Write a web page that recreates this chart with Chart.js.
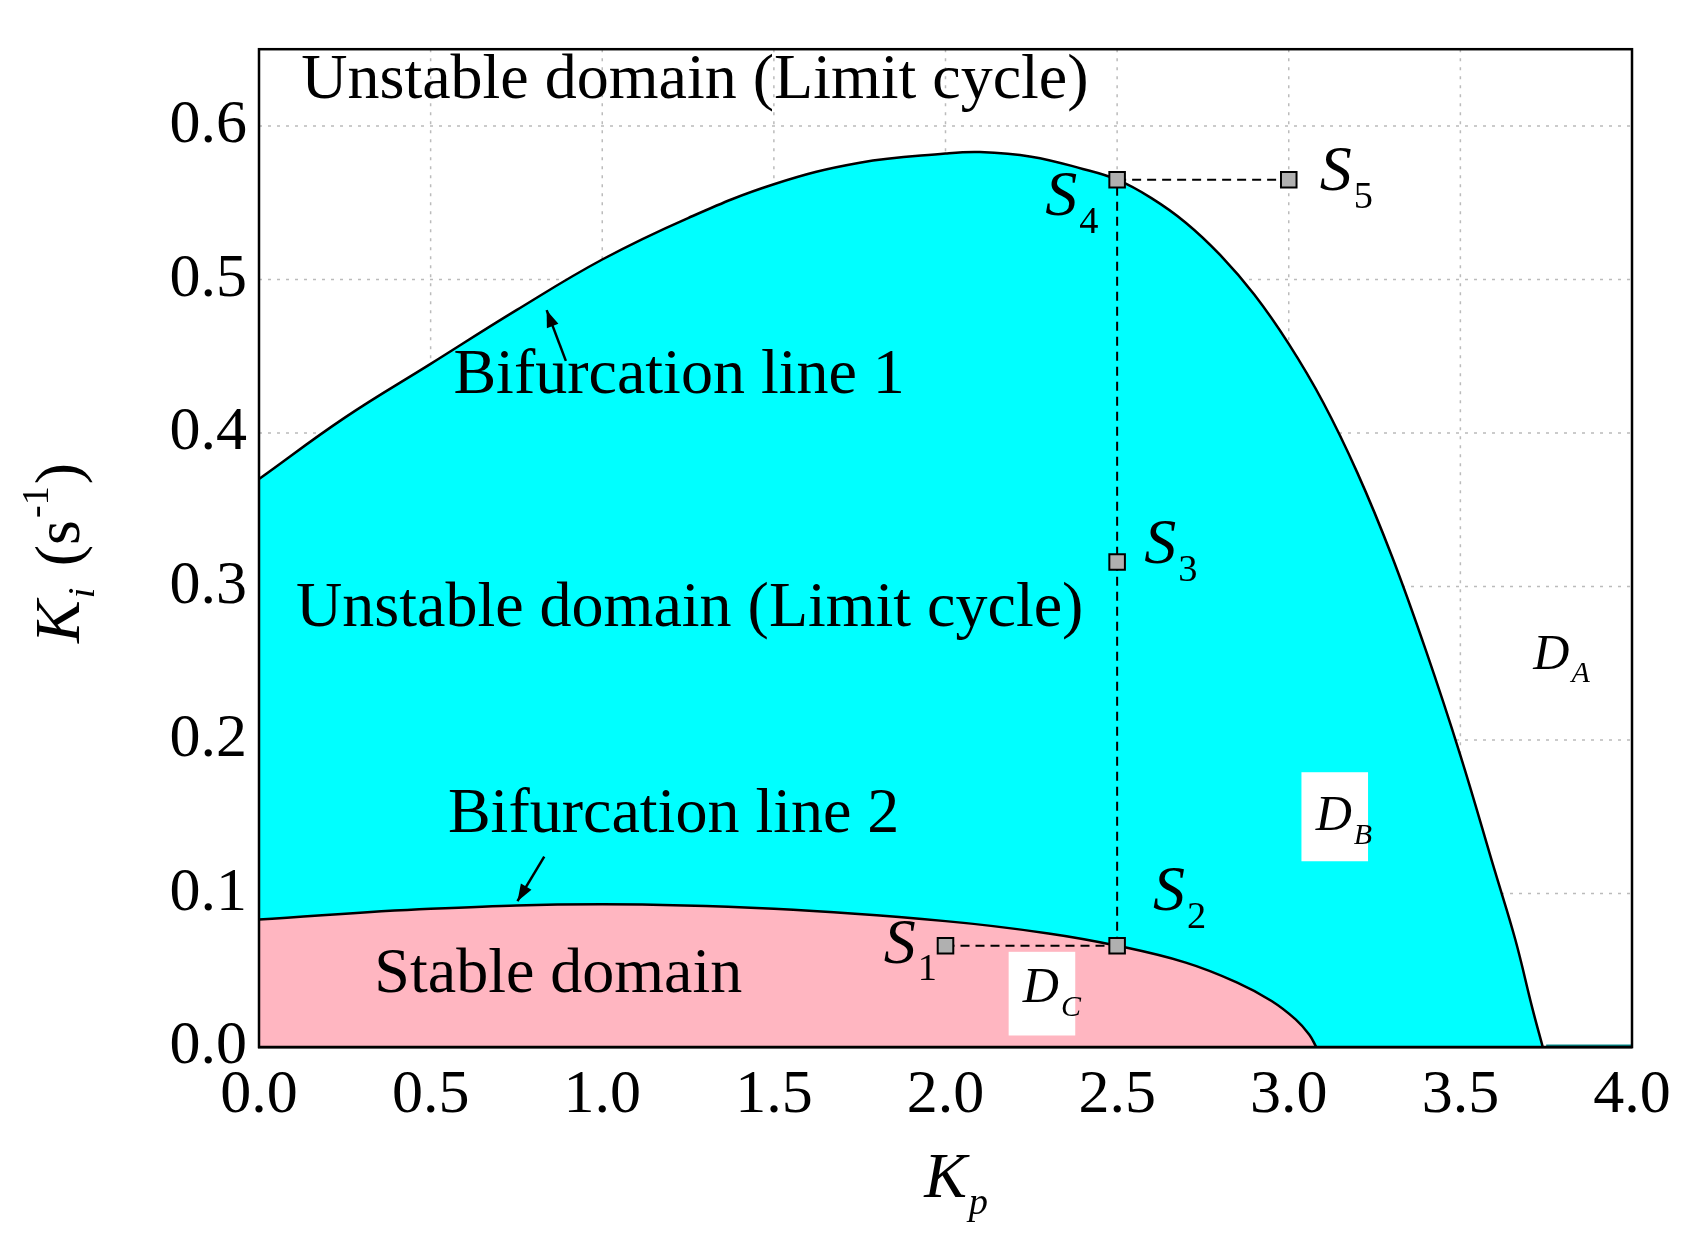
<!DOCTYPE html>
<html><head><meta charset="utf-8">
<script src="https://cdn.jsdelivr.net/npm/chart.js@4"></script>
<style>html,body{margin:0;background:#fff}</style>
</head><body>
<canvas id="c" width="1689" height="1254"></canvas>
<script>
// bifurcation line 1 (Kp, Ki)
const line1Kp = [0, 0.25, 0.5, 0.75, 1.0, 1.25, 1.5, 1.75, 2.0, 2.1, 2.25, 2.4, 2.5, 2.6, 2.7, 2.8, 2.9, 3.0, 3.1, 3.2, 3.3, 3.4, 3.5, 3.6, 3.66, 3.71, 3.74];
const line1Ki = [0.37, 0.41, 0.445, 0.48, 0.513, 0.54, 0.562, 0.576, 0.582, 0.583, 0.58, 0.572, 0.565, 0.553, 0.537, 0.516, 0.49, 0.458, 0.42, 0.374, 0.32, 0.258, 0.19, 0.115, 0.07, 0.025, 0];
// bifurcation line 2
const line2Kp = [0, 0.5, 1.0, 1.5, 2.0, 2.3, 2.5, 2.7, 2.85, 2.95, 3.02, 3.06, 3.08];
const line2Ki = [0.083, 0.09, 0.093, 0.09, 0.082, 0.074, 0.066, 0.055, 0.042, 0.03, 0.018, 0.008, 0];
// operating points S1..S5
const ptKp = [2.0, 2.5, 2.5, 2.5, 3.0];
const ptKi = [0.066, 0.066, 0.316, 0.565, 0.565];
const xTicks = [0, 0.5, 1.0, 1.5, 2.0, 2.5, 3.0, 3.5, 4.0];
const yTicks = [0, 0.1, 0.2, 0.3, 0.4, 0.5, 0.6];

const pts = (xs, ys) => xs.map((x, i) => ({x, y: ys[i]}));
const serif = '"Liberation Serif", "DejaVu Serif", serif';

function sub(ctx, x, y, main, s, size, italicSub) {
  ctx.font = `italic ${size}px ${serif}`;
  ctx.textAlign = 'left'; ctx.textBaseline = 'middle';
  const w = ctx.measureText(main).width;
  const x0 = x - w / 2;
  ctx.fillText(main, x0, y);
  ctx.font = `${italicSub ? 'italic ' : ''}${size * 0.6}px ${serif}`;
  ctx.fillText(s, x0 + w + 2, y + size * 0.38);
}

const annot = {
  id: 'annot',
  afterDraw(chart) {
    const {ctx, scales: {x, y}} = chart;
    const px = v => x.getPixelForValue(v), py = v => y.getPixelForValue(v);
    ctx.save();
    ctx.fillStyle = '#fff';
    [[3.037, 3.231, 0.179, 0.121], [2.184, 2.378, 0.062, 0.0075]].forEach(b => {
      ctx.fillRect(px(b[0]), py(b[2]), px(b[1]) - px(b[0]), py(b[3]) - py(b[2]));
    });
    ctx.fillStyle = '#000';
    ctx.textAlign = 'center'; ctx.textBaseline = 'middle';
    ctx.font = `64px ${serif}`;
    ctx.fillText('Unstable domain (Limit cycle)', px(1.27), py(0.629));
    ctx.fillText('Unstable domain (Limit cycle)', px(1.255), py(0.285));
    ctx.fillText('Bifurcation line 1', px(1.224), py(0.437));
    ctx.fillText('Bifurcation line 2', px(1.208), py(0.151));
    ctx.fillText('Stable domain', px(0.872), py(0.047));
    // arrows
    [[0.894, 0.447, 0.838, 0.480], [0.831, 0.124, 0.753, 0.095]].forEach(a => {
      const x1 = px(a[0]), y1 = py(a[1]), x2 = px(a[2]), y2 = py(a[3]);
      ctx.strokeStyle = '#000'; ctx.lineWidth = 2.5;
      ctx.beginPath(); ctx.moveTo(x1, y1); ctx.lineTo(x2, y2); ctx.stroke();
      const ang = Math.atan2(y2 - y1, x2 - x1);
      ctx.beginPath(); ctx.moveTo(x2, y2);
      ctx.lineTo(x2 - 18 * Math.cos(ang - 0.35), y2 - 18 * Math.sin(ang - 0.35));
      ctx.lineTo(x2 - 18 * Math.cos(ang + 0.35), y2 - 18 * Math.sin(ang + 0.35));
      ctx.closePath(); ctx.fill();
    });
    sub(ctx, px(2.337), py(0.553), 'S', '4', 64);
    sub(ctx, px(3.137), py(0.569), 'S', '5', 64);
    sub(ctx, px(2.626), py(0.326), 'S', '3', 64);
    sub(ctx, px(2.651), py(0.1), 'S', '2', 64);
    sub(ctx, px(1.867), py(0.066), 'S', '1', 64);
    sub(ctx, px(3.765), py(0.255), 'D', 'A', 50, true);
    sub(ctx, px(3.131), py(0.15), 'D', 'B', 50, true);
    sub(ctx, px(2.278), py(0.038), 'D', 'C', 50, true);
    // axis titles
    sub(ctx, px(2.0), 1180, 'K', 'p', 64, true);
    ctx.translate(62, py(0.32));
    ctx.rotate(-Math.PI / 2);
    ctx.textAlign = 'left';
    ctx.font = `italic 64px ${serif}`;
    const t = ctx.measureText('K').width;
    ctx.font = `64px ${serif}`;
    const rest = ' (s';
    const total = t + 18 + ctx.measureText(rest + ')').width + 30;
    let cx = -total / 2;
    ctx.font = `italic 64px ${serif}`; ctx.fillText('K', cx, 0); cx += t;
    ctx.font = `italic 38px ${serif}`; ctx.fillText('i', cx + 2, 22); cx += 18;
    ctx.font = `64px ${serif}`; ctx.fillText(rest, cx, 0); cx += ctx.measureText(rest).width;
    ctx.font = `38px ${serif}`; ctx.fillText('-1', cx + 2, -24); cx += ctx.measureText('-1').width + 4;
    ctx.font = `64px ${serif}`; ctx.fillText(')', cx, 0);
    ctx.restore();
  }
};

new Chart(document.getElementById('c'), {
  type: 'scatter',
  data: {
    datasets: [
      {data: pts(line1Kp, line1Ki), showLine: true, fill: 'origin', backgroundColor: '#00ffff', borderColor: '#000', borderWidth: 2.5, pointRadius: 0, tension: 0.4, order: 5},
      {data: pts(line2Kp, line2Ki), showLine: true, fill: 'origin', backgroundColor: '#ffb6c1', borderColor: '#000', borderWidth: 2.5, pointRadius: 0, tension: 0.4, order: 4},
      {data: [{x: 3.75, y: 0.001}, {x: 4.0, y: 0.001}], showLine: true, borderColor: '#008b8b', borderWidth: 2, pointRadius: 0, order: 3},
      {data: pts([ptKp[0], ptKp[1]], [ptKi[0], ptKi[1]]), showLine: true, borderColor: '#000', borderWidth: 2, borderDash: [9, 6], pointRadius: 0, order: 2},
      {data: pts([ptKp[1], ptKp[3]], [ptKi[1], ptKi[3]]), showLine: true, borderColor: '#000', borderWidth: 2, borderDash: [9, 6], pointRadius: 0, order: 2},
      {data: pts([ptKp[3], ptKp[4]], [ptKi[3], ptKi[4]]), showLine: true, borderColor: '#000', borderWidth: 2, borderDash: [9, 6], pointRadius: 0, order: 2},
      {data: pts(ptKp, ptKi), showLine: false, pointStyle: 'rect', pointRadius: 11, backgroundColor: '#b0b0b0', borderColor: '#000', borderWidth: 2, order: 1}
    ]
  },
  options: {
    responsive: false, animation: false,
    layout: {padding: {top: 0, right: 57}},
    plugins: {legend: {display: false}, tooltip: {enabled: false}},
    scales: {
      x: {
        min: 0, max: 4,
        afterBuildTicks: s => { s.ticks = xTicks.map(v => ({value: v})); },
        afterFit: s => { s.height = 207; },
        grid: {color: '#c8c8c8', lineWidth: 1.5, drawTicks: false},
        border: {color: '#000', width: 2.5},
        ticks: {padding: 12, color: '#000', font: {family: serif, size: 62}, callback: v => v.toFixed(1), maxRotation: 0}
      },
      y: {
        min: 0, max: 0.65,
        afterBuildTicks: s => { s.ticks = yTicks.map(v => ({value: v})); },
        afterFit: s => { s.width = 259; },
        grid: {color: '#c8c8c8', lineWidth: 1.5, drawTicks: false},
        border: {color: '#000', width: 2.5},
        ticks: {padding: 12, color: '#000', font: {family: serif, size: 62}, callback: v => v.toFixed(1)}
      }
    }
  },
  plugins: [annot, {
    id: 'frame',
    beforeDatasetsDraw(chart) {
      // repaint grid as dotted lines
      const {ctx, chartArea: a, scales: {x, y}} = chart;
      ctx.save(); ctx.fillStyle = '#fff';
      ctx.fillRect(a.left, a.top, a.right - a.left, a.bottom - a.top);
      ctx.strokeStyle = '#bbb'; ctx.lineWidth = 1.5; ctx.setLineDash([3, 6]);
      xTicks.forEach(v => { const p = x.getPixelForValue(v); ctx.beginPath(); ctx.moveTo(p, a.top); ctx.lineTo(p, a.bottom); ctx.stroke(); });
      yTicks.forEach(v => { const p = y.getPixelForValue(v); ctx.beginPath(); ctx.moveTo(a.left, p); ctx.lineTo(a.right, p); ctx.stroke(); });
      ctx.restore();
    },
    afterDatasetsDraw(chart) {
      const {ctx, chartArea: a} = chart;
      ctx.save(); ctx.strokeStyle = '#000'; ctx.lineWidth = 2.5;
      ctx.strokeRect(a.left, a.top, a.right - a.left, a.bottom - a.top); ctx.restore();
    }
  }]
});
</script>
</body></html>
